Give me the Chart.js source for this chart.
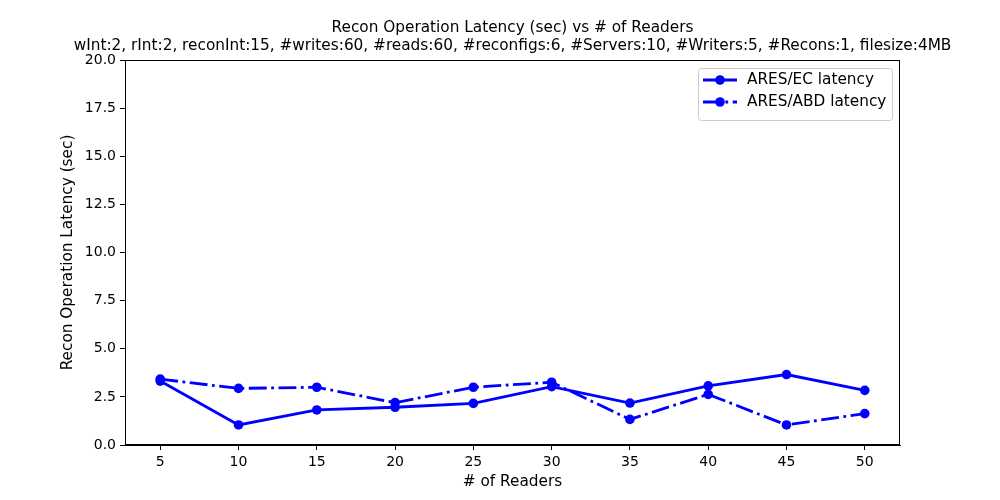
<!DOCTYPE html>
<html>
<head>
<meta charset="utf-8">
<script src="https://cdn.jsdelivr.net/npm/chart.js@4/dist/chart.umd.min.js"></script>
<style>
  html, body { margin: 0; padding: 0; background: #fff; }
  #chart { display: block; }
</style>
</head>
<body>
<canvas id="chart" width="1000" height="500"></canvas>
<script>
const readers = [5, 10, 15, 20, 25, 30, 35, 40, 45, 50];
const ecLatency = [3.32, 1.04, 1.82, 1.96, 2.16, 3.03, 2.18, 3.07, 3.66, 2.84];
const abdLatency = [3.42, 2.94, 3.0, 2.2, 3.0, 3.26, 1.33, 2.63, 1.04, 1.63];
const xTicks = [5, 10, 15, 20, 25, 30, 35, 40, 45, 50];
const yTicks = [0, 2.5, 5, 7.5, 10, 12.5, 15, 17.5, 20];

const titleLines = [
  "Recon Operation Latency (sec) vs # of Readers",
  "wInt:2, rInt:2, reconInt:15, #writes:60, #reads:60, #reconfigs:6, #Servers:10, #Writers:5, #Recons:1, filesize:4MB"
];
const xTitle = "# of Readers";
const yTitle = "Recon Operation Latency (sec)";

const FONT = "DejaVu Sans";
const LABEL_SIZE = 15.3;
const TICK_SIZE = 14;
const LINE_W = 2.8;
const MARK_R = 4.8;
const dashDot = [17.9, 4.5, 2.8, 4.5];

function toPoints(xs, ys) {
  return xs.map((x, i) => ({ x: x, y: ys[i] }));
}

const series = [
  { label: "ARES/EC latency", data: toPoints(readers, ecLatency), dash: [] },
  { label: "ARES/ABD latency", data: toPoints(readers, abdLatency), dash: dashDot },
];

// frame, titles and the boxed legend inside the plot, matplotlib style
const decorations = {
  id: "decorations",
  afterDraw(chart) {
    const ctx = chart.ctx;
    const a = chart.chartArea;
    ctx.save();
    ctx.strokeStyle = "#000";
    ctx.lineWidth = 1;
    ctx.strokeRect(a.left + 0.5, a.top + 0.5, a.right - a.left - 1, a.bottom - a.top - 1);

    ctx.fillStyle = "#000";
    ctx.font = LABEL_SIZE + "px '" + FONT + "'";
    ctx.textAlign = "center";
    ctx.textBaseline = "middle";
    const cx = (a.left + a.right) / 2;
    ctx.fillText(titleLines[0], cx, 28);
    ctx.fillText(titleLines[1], cx, 46);
    ctx.fillText(xTitle, cx, 482);

    ctx.save();
    ctx.translate(68, (a.top + a.bottom) / 2);
    ctx.rotate(-Math.PI / 2);
    ctx.fillText(yTitle, 0, 0);
    ctx.restore();

    // legend
    const lx = 698, ly = 68, lw = 194, lh = 52;
    ctx.fillStyle = "rgba(255,255,255,0.8)";
    ctx.strokeStyle = "#cccccc";
    ctx.beginPath();
    ctx.roundRect(lx + 0.5, ly + 0.5, lw, lh, 3);
    ctx.fill();
    ctx.stroke();

    series.forEach((s, i) => {
      const y = 80 + i * 22;
      ctx.strokeStyle = "#0000ff";
      ctx.lineWidth = LINE_W;
      ctx.setLineDash(s.dash);
      ctx.beginPath();
      ctx.moveTo(703, y);
      ctx.lineTo(737, y);
      ctx.stroke();
      ctx.setLineDash([]);
      ctx.fillStyle = "#0000ff";
      ctx.beginPath();
      ctx.arc(720, y, MARK_R, 0, Math.PI * 2);
      ctx.fill();
      ctx.fillStyle = "#000";
      ctx.textAlign = "left";
      ctx.fillText(s.label, 747, y);
    });
    ctx.restore();
  }
};

new Chart(document.getElementById("chart"), {
  type: "line",
  data: {
    datasets: series.map(s => ({
      label: s.label,
      data: s.data,
      borderColor: "#0000ff",
      backgroundColor: "#0000ff",
      borderWidth: LINE_W,
      borderDash: s.dash,
      pointRadius: MARK_R,
      pointHoverRadius: MARK_R,
      pointBorderWidth: 0,
      tension: 0,
      fill: false,
    })),
  },
  options: {
    responsive: false,
    animation: false,
    devicePixelRatio: 1,
    layout: { padding: { left: 0, right: 100, top: 60, bottom: 0 } },
    plugins: {
      legend: { display: false },
      title: { display: false },
      tooltip: { enabled: false },
    },
    scales: {
      x: {
        type: "linear",
        min: 2.75,
        max: 52.25,
        afterFit(scale) { scale.height = 55; },
        afterBuildTicks(scale) { scale.ticks = xTicks.map(v => ({ value: v })); },
        grid: { drawOnChartArea: false, tickLength: 5, tickColor: "#000", color: "#000" },
        border: { display: true, color: "#000", width: 1 },
        ticks: {
          color: "#000",
          font: { family: FONT, size: TICK_SIZE },
          padding: 4,
          maxRotation: 0,
          autoSkip: false,
          callback: v => String(v),
        },
      },
      y: {
        min: 0,
        max: 20,
        afterFit(scale) { scale.width = 125; },
        afterBuildTicks(scale) { scale.ticks = yTicks.map(v => ({ value: v })); },
        grid: { drawOnChartArea: false, tickLength: 5, tickColor: "#000", color: "#000" },
        border: { display: true, color: "#000", width: 1 },
        ticks: {
          color: "#000",
          font: { family: FONT, size: TICK_SIZE },
          padding: 4,
          callback: v => v.toFixed(1),
        },
      },
    },
  },
  plugins: [decorations],
});
</script>
</body>
</html>
